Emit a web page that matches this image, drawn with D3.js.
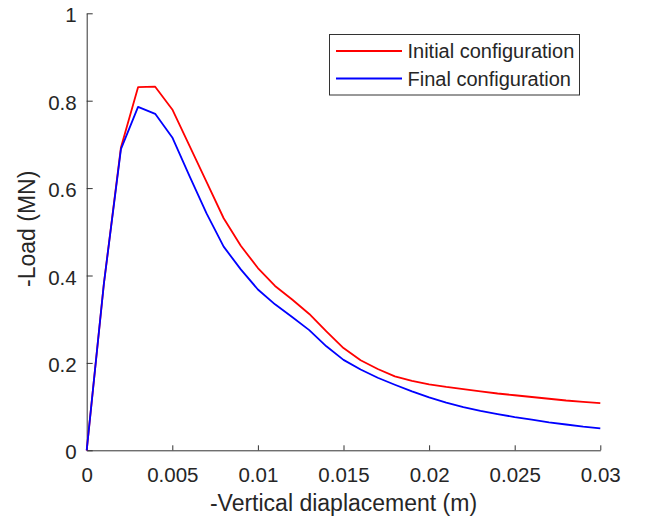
<!DOCTYPE html>
<html>
<head>
<meta charset="utf-8">
<script src="https://cdn.jsdelivr.net/npm/d3@7"></script>
<style>
  body { margin: 0; background: #fff; }
  svg { display: block; font-family: "Liberation Sans", Arial, sans-serif; }
</style>
</head>
<body>
<svg id="chart"></svg>
<script>
// displacement (m) and load (MN)
const dispInitial = [0, 0.001, 0.002, 0.003, 0.004, 0.005, 0.006, 0.007, 0.008, 0.009, 0.010,
  0.011, 0.012, 0.013, 0.014, 0.015, 0.016, 0.017, 0.018, 0.019, 0.020,
  0.021, 0.022, 0.023, 0.024, 0.025, 0.026, 0.027, 0.028, 0.029, 0.030];
const loadInitial = [0, 0.38, 0.693, 0.831, 0.832, 0.780, 0.697, 0.614, 0.531, 0.468, 0.417,
  0.376, 0.345, 0.312, 0.272, 0.234, 0.206, 0.186, 0.169, 0.159, 0.151,
  0.145, 0.140, 0.135, 0.130, 0.126, 0.122, 0.118, 0.114, 0.111, 0.108];

const dispFinal = dispInitial;
const loadFinal = [0, 0.38, 0.689, 0.786, 0.770, 0.716, 0.628, 0.542, 0.466, 0.414, 0.368,
  0.334, 0.305, 0.275, 0.238, 0.207, 0.185, 0.166, 0.150, 0.135, 0.121,
  0.109, 0.099, 0.090, 0.083, 0.076, 0.070, 0.064, 0.059, 0.054, 0.050];

const seriesNames = ['Initial configuration', 'Final configuration'];
const seriesColors = ['#ff0000', '#0000ff'];

const xTicks = [0, 0.005, 0.01, 0.015, 0.02, 0.025, 0.03];
const xTickLabels = ['0', '0.005', '0.01', '0.015', '0.02', '0.025', '0.03'];
const yTicks = [0, 0.2, 0.4, 0.6, 0.8, 1];
const yTickLabels = ['0', '0.2', '0.4', '0.6', '0.8', '1'];

const width = 648, height = 521;
const margin = { left: 86.7, right: 47.7, top: 13.3, bottom: 70.7 };
const axisColor = '#333';

const svg = d3.select('#chart').attr('width', width).attr('height', height);

const x = d3.scaleLinear().domain([0, 0.03]).range([margin.left, width - margin.right]);
const y = d3.scaleLinear().domain([0, 1]).range([height - margin.bottom, margin.top]);

// axes, ticks pointing inward
const xAxis = svg.append('g')
  .attr('transform', `translate(0,${y(0)})`)
  .call(d3.axisBottom(x)
    .tickValues(xTicks)
    .tickFormat((d, i) => xTickLabels[i])
    .tickSizeInner(-5)
    .tickSizeOuter(0)
    .tickPadding(17));

const yAxis = svg.append('g')
  .attr('transform', `translate(${x(0)},0)`)
  .call(d3.axisLeft(y)
    .tickValues(yTicks)
    .tickFormat((d, i) => yTickLabels[i])
    .tickSizeInner(-6)
    .tickSizeOuter(0)
    .tickPadding(10));

[xAxis, yAxis].forEach(a => {
  a.select('.domain').attr('stroke', axisColor);
  a.selectAll('.tick line').attr('stroke', axisColor);
  a.selectAll('.tick text')
    .attr('fill', '#262626')
    .style('font-size', '20.5px')
    .style('font-family', '"Liberation Sans", Arial, sans-serif');
});
yAxis.selectAll('.tick text').attr('dy', '0.42em');

// axis labels
svg.append('text')
  .attr('x', (x(0) + x(0.03)) / 2)
  .attr('y', 511)
  .attr('text-anchor', 'middle')
  .attr('fill', '#262626')
  .style('font-size', '23px')
  .text('-Vertical diaplacement (m)');

svg.append('text')
  .attr('transform', `translate(35,${(y(0) + y(1)) / 2 - 3}) rotate(-90)`)
  .attr('text-anchor', 'middle')
  .attr('fill', '#262626')
  .style('font-size', '23px')
  .text('-Load (MN)');

// curves
const line = d3.line().x(d => x(d[0])).y(d => y(d[1]));
const series = [
  d3.zip(dispInitial, loadInitial),
  d3.zip(dispFinal, loadFinal)
];

svg.append('g')
  .selectAll('path')
  .data(series)
  .join('path')
  .attr('d', line)
  .attr('fill', 'none')
  .attr('stroke', (d, i) => seriesColors[i])
  .attr('stroke-width', 1.8)
  .attr('stroke-linejoin', 'round');

// legend
const legend = svg.append('g').attr('transform', 'translate(329.5,34.5)');
legend.append('rect')
  .attr('width', 250)
  .attr('height', 60.5)
  .attr('fill', '#fff')
  .attr('stroke', '#333')
  .attr('stroke-width', 1);

const rows = legend.selectAll('g.row')
  .data(seriesNames)
  .join('g')
  .attr('class', 'row')
  .attr('transform', (d, i) => `translate(0,${16.5 + i * 27.5})`);

rows.append('line')
  .attr('x1', 6.5).attr('x2', 72.5)
  .attr('stroke', (d, i) => seriesColors[i])
  .attr('stroke-width', 1.8);

rows.append('text')
  .attr('x', 78)
  .attr('dy', '0.36em')
  .attr('fill', '#262626')
  .style('font-size', '20px')
  .text(d => d);
</script>
</body>
</html>
